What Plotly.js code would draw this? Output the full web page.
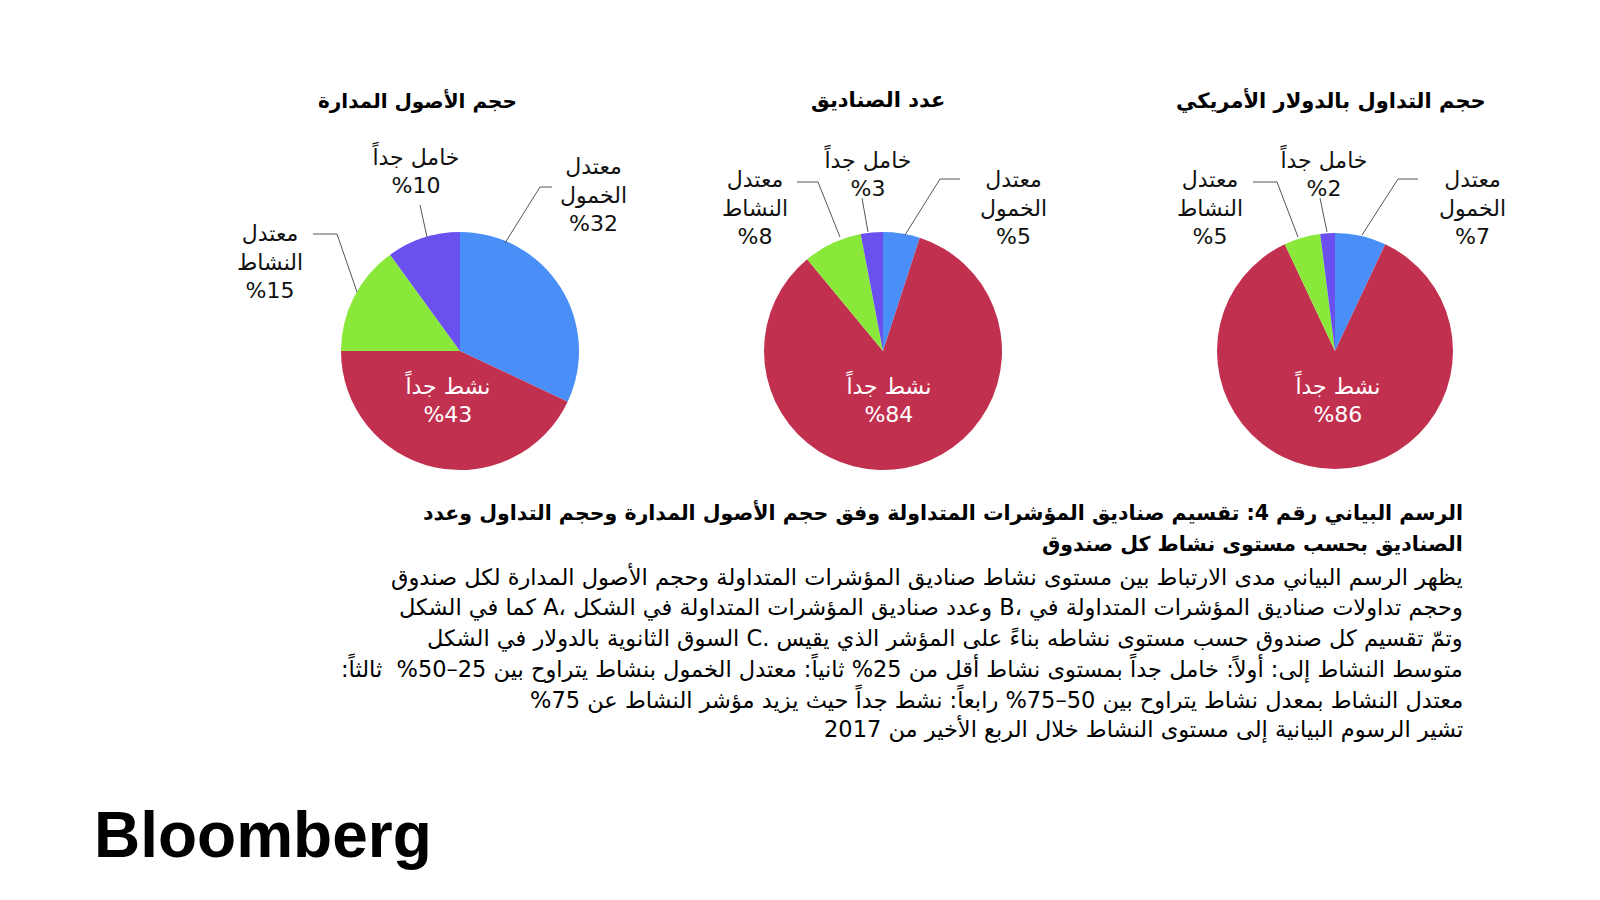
<!DOCTYPE html>
<html>
<head>
<meta charset="utf-8">
<script src="https://cdn.plot.ly/plotly-3.0.1.min.js"></script>
<style>
html,body{margin:0;padding:0;background:#fff;}
#chart{width:1600px;height:900px;}
</style>
</head>
<body>
<div id="chart"></div>
<script>
// ---------- DATA ----------
const categories = ['معتدل الخمول', 'نشط جداً', 'معتدل النشاط', 'خامل جداً'];
const categoryLabelLines = ['معتدل<br>الخمول', 'نشط جداً', 'معتدل<br>النشاط', 'خامل جداً'];
const panelTitles = ['حجم الأصول المدارة', 'عدد الصناديق', 'حجم التداول بالدولار الأمريكي'];
const aumShares = [32, 43, 15, 10];
const fundCountShares = [5, 84, 8, 3];
const tradingVolumeShares = [7, 86, 5, 2];
const captionTitleLines = [
  'الرسم البياني رقم 4: تقسيم صناديق المؤشرات المتداولة وفق حجم الأصول المدارة وحجم التداول وعدد',
  'الصناديق بحسب مستوى نشاط كل صندوق'
];
const captionBodyLines = [
  'يظهر الرسم البياني مدى الارتباط بين مستوى نشاط صناديق المؤشرات المتداولة وحجم الأصول المدارة لكل صندوق',
  'وحجم تداولات صناديق المؤشرات المتداولة في ،B وعدد صناديق المؤشرات المتداولة في الشكل ،A كما في الشكل',
  'وتمّ تقسيم كل صندوق حسب مستوى نشاطه بناءً على المؤشر الذي يقيس .C السوق الثانوية بالدولار في الشكل',
  'متوسط النشاط إلى: أولاً: خامل جداً بمستوى نشاط أقل من 25% ثانياً: معتدل الخمول بنشاط يتراوح بين 25–50%  ثالثاً:',
  'معتدل النشاط بمعدل نشاط يتراوح بين 50–75% رابعاً: نشط جداً حيث يزيد مؤشر النشاط عن 75%',
  'تشير الرسوم البيانية إلى مستوى النشاط خلال الربع الأخير من 2017'
];
const brand = 'Bloomberg';

// ---------- STYLE / LAYOUT ----------
const W = 1600, H = 900;
const colors = ['#4a8ff8', '#c2304f', '#8ae83a', '#6a50ee'];
const AR = '"DejaVu Sans", "Noto Sans", sans-serif';
const px = x => x / W;
const py = y => 1 - y / H;

const panels = [
  {values: aumShares, cx: 460, cy: 351, r: 119, titleX: 417, titleSize: 20,
   labelPos: [[593, 195], [447, 398], [270, 262], [415, 169]],
   leaders: [[[552,187],[540,187],[505,243]], null, [[313,234],[337,234],[357,292]], [[420,205],[427,237]]]},
  {values: fundCountShares, cx: 883, cy: 351, r: 119, titleX: 878, titleSize: 21,
   labelPos: [[1013, 208], [888, 398], [755, 208], [867, 172]],
   leaders: [[[960,179],[940,179],[905,235]], null, [[797,182],[818,182],[840,237]], [[862,198],[868,232]]]},
  {values: tradingVolumeShares, cx: 1335, cy: 351, r: 118, titleX: 1331, titleSize: 21,
   labelPos: [[1472, 208], [1337, 398], [1210, 208], [1323, 172]],
   leaders: [[[1418,179],[1398,179],[1362,235]], null, [[1253,182],[1277,182],[1298,237]], [[1320,198],[1327,232]]]}
];

const traces = [];
const annotations = [];
const shapes = [];

panels.forEach((p, i) => {
  traces.push({
    type: 'pie',
    values: p.values,
    labels: categories,
    sort: false,
    direction: 'clockwise',
    rotation: 0,
    textinfo: 'none',
    hoverinfo: 'label+value',
    marker: {colors: colors, line: {width: 0}},
    showlegend: false,
    domain: {x: [px(p.cx - p.r), px(p.cx + p.r)], y: [py(p.cy + p.r), py(p.cy - p.r)]}
  });
  annotations.push({
    text: panelTitles[i], xref: 'paper', yref: 'paper',
    x: px(p.titleX), y: py(100), xanchor: 'center', yanchor: 'middle',
    showarrow: false, font: {family: AR, size: p.titleSize, color: '#000', weight: 700}
  });
  p.values.forEach((v, k) => {
    const inside = (k === 1);
    annotations.push({
      text: categoryLabelLines[k] + '<br>%' + v,
      xref: 'paper', yref: 'paper',
      x: px(p.labelPos[k][0]), y: py(p.labelPos[k][1]),
      xanchor: 'center', yanchor: 'middle', align: 'center',
      showarrow: false,
      font: {family: AR, size: 22, color: inside ? '#ffffff' : '#111111'}
    });
    const L = p.leaders[k];
    if (L) {
      const d = L.map((pt, j) => (j ? 'L' : 'M') + px(pt[0]) + ',' + py(pt[1])).join(' ');
      shapes.push({type: 'path', xref: 'paper', yref: 'paper', path: d,
        line: {color: '#555555', width: 1}});
    }
  });
});

const RLE = '\u202B', PDF = '\u202C';
const captionRight = 1465;
const titleYs = [512, 544];
captionTitleLines.forEach((t, i) => {
  annotations.push({
    text: RLE + t + PDF, xref: 'paper', yref: 'paper',
    x: px(captionRight), y: py(titleYs[i]), xanchor: 'right', yanchor: 'middle',
    showarrow: false, font: {family: AR, size: 20.5, color: '#000', weight: 700}
  });
});
const bodyYs = [577, 607, 638, 668, 699, 729];
captionBodyLines.forEach((t, i) => {
  annotations.push({
    text: RLE + t + PDF, xref: 'paper', yref: 'paper',
    x: px(captionRight), y: py(bodyYs[i]), xanchor: 'right', yanchor: 'middle',
    showarrow: false, font: {family: AR, size: 22.5, color: '#000'}
  });
});
annotations.push({
  text: brand, xref: 'paper', yref: 'paper',
  x: px(92), y: py(835), xanchor: 'left', yanchor: 'middle',
  showarrow: false, font: {family: '"Liberation Sans", Arial, sans-serif', size: 64, color: '#000', weight: 700}
});

const layout = {
  width: W, height: H,
  margin: {l: 0, r: 0, t: 0, b: 0},
  paper_bgcolor: '#ffffff', plot_bgcolor: '#ffffff',
  showlegend: false,
  annotations: annotations,
  shapes: shapes
};

Plotly.newPlot('chart', traces, layout, {displayModeBar: false, staticPlot: true});
</script>
</body>
</html>
